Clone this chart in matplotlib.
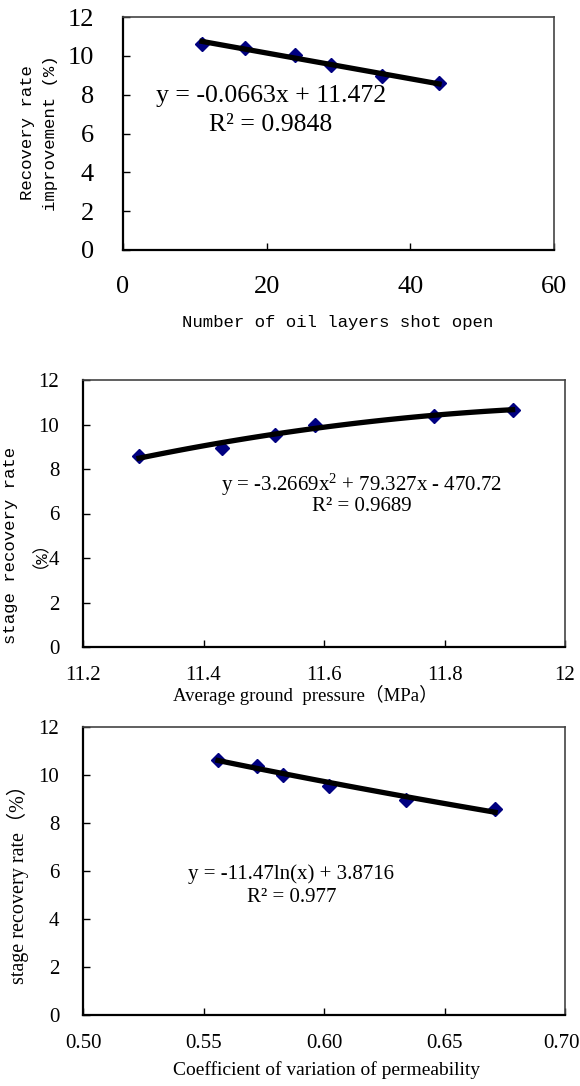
import numpy as np
import matplotlib
matplotlib.use("Agg")
import matplotlib.pyplot as plt
from matplotlib.transforms import ScaledTranslation

# data
layers = [11, 17, 24, 29, 36, 44]
layers_rate = [10.63, 10.38, 10.02, 9.53, 8.95, 8.58]

pressure = [11.293, 11.430, 11.519, 11.585, 11.782, 11.913]
pressure_rate = [8.57, 8.95, 9.54, 10.0, 10.4, 10.63]

perm_cv = [0.556, 0.572, 0.583, 0.602, 0.634, 0.671]
perm_rate = [10.64, 10.39, 10.01, 9.53, 8.95, 8.60]

plt.rcParams['font.family'] = ['Liberation Serif', 'Noto Sans CJK SC']
plt.rcParams['mathtext.fontset'] = 'custom'
plt.rcParams['mathtext.rm'] = 'Liberation Serif'
plt.rcParams['mathtext.it'] = 'Liberation Serif:italic'

W, H = 580, 1086
fig = plt.figure(figsize=(W / 100, H / 100), dpi=100)
mono = ['Liberation Mono', 'Noto Sans CJK SC']
serif = ['Liberation Serif', 'Noto Sans CJK SC']


def px_axes(l, t, r, b):
    return fig.add_axes([l / W, 1 - b / H, (r - l) / W, (b - t) / H])


def ftext(x, y, s, **kw):
    fig.text(x / W, 1 - y / H, s, ha='center', va='center', **kw)


def style(ax, tick_size, xpad, ypad):
    for side in ['left', 'bottom']:
        ax.spines[side].set_linewidth(1.6)
        ax.spines[side].set_color('black')
    for side in ['top', 'right']:
        ax.spines[side].set_linewidth(1.2)
        ax.spines[side].set_color('#444444')
    ax.tick_params(direction='in', length=5, width=1, labelsize=tick_size)
    ax.tick_params(axis='x', pad=xpad)
    ax.tick_params(axis='y', pad=ypad)
    for lab in ax.get_xticklabels() + ax.get_yticklabels():
        lab.set_family(serif)


def nudge_last_xlabel(ax, dx_px):
    lab = ax.get_xticklabels()[-1]
    lab.set_transform(lab.get_transform() + ScaledTranslation(dx_px / 100, 0, fig.dpi_scale_trans))


# panel 1 - linear
ax1 = px_axes(123, 17, 554, 250)
xs = np.linspace(min(layers), max(layers), 50)
ax1.plot(layers, layers_rate, 'D', color='#000080', ms=7.5, zorder=2)
ax1.plot(xs, -0.0663 * xs + 11.472, color='black', lw=3.8, zorder=3)
ax1.set_xlim(0, 60)
ax1.set_ylim(0, 12)
ax1.set_xticks([0, 20, 40, 60])
ax1.set_yticks(range(0, 13, 2))
style(ax1, 19, 19, 21)
ax1.text(20.6, 7.95, 'y = -0.0663x + 11.472', ha='center', va='center', fontsize=18.5)
ax1.text(20.6, 6.45, 'R² = 0.9848', ha='center', va='center', fontsize=18.5)
ftext(338, 322, 'Number of oil layers shot open', fontsize=12.5, family=mono)
ftext(28, 133, 'Recovery rate', fontsize=12.5, family=mono, rotation=90)
ftext(51, 133, 'improvement (%)', fontsize=12.5, family=mono, rotation=90)

# panel 2 - quadratic
ax2 = px_axes(83, 380, 565, 647)
xs = np.linspace(min(pressure), max(pressure), 80)
ax2.plot(pressure, pressure_rate, 'D', color='#000080', ms=7, zorder=2)
ax2.plot(xs, -3.2669 * xs ** 2 + 79.327 * xs - 470.72, color='black', lw=3.8, zorder=3)
ax2.set_xlim(11.2, 12)
ax2.set_ylim(0, 12)
ax2.set_xticks([11.2, 11.4, 11.6, 11.8, 12])
ax2.set_xticklabels(['11.2', '11.4', '11.6', '11.8', '12'])
ax2.set_yticks(range(0, 13, 2))
style(ax2, 15, 14, 17)
ax2.text(11.662, 7.3, r'y = -3.2669x$^{2}$ + 79.327x - 470.72', ha='center', va='center', fontsize=15)
ax2.text(11.662, 6.3, 'R² = 0.9689', ha='center', va='center', fontsize=15)
ftext(305, 695, 'Average ground  pressure（MPa）', fontsize=13.5)
ftext(11, 545, 'stage recovery rate', fontsize=12.5, family=mono, rotation=90)
ftext(31, 545, '（%）', fontsize=12.5, family=mono, rotation=90)

# panel 3 - logarithmic
ax3 = px_axes(83, 727, 565, 1015)
xs = np.linspace(min(perm_cv), max(perm_cv), 80)
ax3.plot(perm_cv, perm_rate, 'D', color='#000080', ms=7, zorder=2)
ax3.plot(xs, -11.47 * np.log(xs) + 3.8716, color='black', lw=3.8, zorder=3)
ax3.set_xlim(0.5, 0.7)
ax3.set_ylim(0, 12)
ax3.set_xticks([0.5, 0.55, 0.6, 0.65, 0.7])
ax3.set_xticklabels(['0.50', '0.55', '0.60', '0.65', '0.70'])
ax3.set_yticks(range(0, 13, 2))
style(ax3, 15, 14, 17)
nudge_last_xlabel(ax3, -4)
ax3.text(0.5865, 5.88, 'y = -11.47ln(x) + 3.8716', ha='center', va='center', fontsize=15)
ax3.text(0.5865, 4.88, 'R² = 0.977', ha='center', va='center', fontsize=15)
ftext(327, 1070, 'Coefficient of variation of permeability', fontsize=14)
ftext(18, 880, 'stage recovery rate（%）', fontsize=14.5, rotation=90)

fig.savefig('out.png', dpi=100)
